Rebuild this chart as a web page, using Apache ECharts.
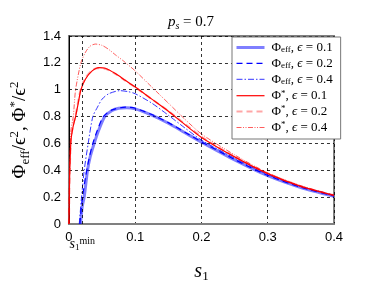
<!DOCTYPE html>
<html>
<head>
<meta charset="utf-8">
<script src="https://cdn.jsdelivr.net/npm/echarts@6/dist/echarts.min.js"></script>
<style>html,body{margin:0;padding:0;background:#fff;}#c{width:382px;height:288px;}</style>
</head>
<body>
<div id="c"></div>
<script>
// ---- data ----
const S1_MIN = 0.0155;
const X_TICKS = [0, 0.1, 0.2, 0.3, 0.4];
const Y_TICKS = [0, 0.2, 0.4, 0.6, 0.8, 1, 1.2, 1.4];

// Phi_eff, eps = 0.1
const S_EFF1 = [0.0175, 0.020, 0.023, 0.028, 0.032, 0.038, 0.045, 0.054, 0.065, 0.075, 0.087, 0.100, 0.125, 0.150, 0.175, 0.200, 0.250, 0.300, 0.350, 0.400];
const V_EFF1 = [0.000, 0.130, 0.200, 0.400, 0.500, 0.600, 0.700, 0.800, 0.845, 0.862, 0.866, 0.857, 0.810, 0.750, 0.680, 0.610, 0.478, 0.360, 0.272, 0.207];
// Phi_eff, eps = 0.2
const S_EFF2 = [0.0165, 0.020, 0.025, 0.030, 0.036, 0.043, 0.052, 0.065, 0.085, 0.100, 0.125, 0.150, 0.175, 0.200, 0.250, 0.300, 0.350, 0.400];
const V_EFF2 = [0.000, 0.180, 0.350, 0.480, 0.600, 0.700, 0.800, 0.850, 0.870, 0.862, 0.815, 0.755, 0.684, 0.612, 0.480, 0.362, 0.273, 0.208];
// Phi_eff, eps = 0.4
const S_EFF4 = [0.0155, 0.019, 0.023, 0.029, 0.036, 0.043, 0.050, 0.060, 0.077, 0.090, 0.100, 0.125, 0.150, 0.175, 0.200, 0.250, 0.300, 0.350, 0.400];
const V_EFF4 = [0.000, 0.200, 0.400, 0.600, 0.800, 0.870, 0.930, 0.970, 0.993, 0.985, 0.970, 0.900, 0.810, 0.715, 0.625, 0.490, 0.368, 0.277, 0.210];
// Phi*, eps = 0.1
const S_STAR1 = [0.000, 0.001, 0.003, 0.006, 0.010, 0.014, 0.018, 0.025, 0.035, 0.045, 0.055, 0.070, 0.085, 0.100, 0.125, 0.150, 0.175, 0.200, 0.250, 0.300, 0.350, 0.400];
const V_STAR1 = [0.000, 0.350, 0.620, 0.720, 0.800, 0.900, 1.000, 1.080, 1.140, 1.165, 1.160, 1.120, 1.070, 1.020, 0.930, 0.840, 0.740, 0.645, 0.500, 0.375, 0.280, 0.213];
// Phi*, eps = 0.2
const S_STAR2 = [0.000, 0.001, 0.003, 0.006, 0.010, 0.014, 0.018, 0.025, 0.035, 0.043, 0.055, 0.070, 0.085, 0.100, 0.125, 0.150, 0.175, 0.200, 0.250, 0.300, 0.350, 0.400];
const V_STAR2 = [0.000, 0.360, 0.630, 0.730, 0.810, 0.915, 1.010, 1.090, 1.145, 1.160, 1.155, 1.118, 1.068, 1.018, 0.930, 0.842, 0.745, 0.650, 0.503, 0.377, 0.281, 0.214];
// Phi*, eps = 0.4
const S_STAR4 = [0.000, 0.001, 0.003, 0.0065, 0.010, 0.018, 0.025, 0.032, 0.040, 0.050, 0.060, 0.070, 0.082, 0.100, 0.125, 0.150, 0.175, 0.200, 0.250, 0.300, 0.350, 0.400];
const V_STAR4 = [0.000, 0.400, 0.700, 0.800, 1.000, 1.200, 1.280, 1.325, 1.340, 1.330, 1.300, 1.260, 1.215, 1.140, 1.020, 0.900, 0.780, 0.670, 0.515, 0.380, 0.285, 0.215];

const pairs = (xs, ys) => xs.map((x, i) => [x, ys[i]]);

const SERIF = 'Liberation Serif';
const SANS = 'Liberation Sans';
const rich = {
  n: {fontFamily: SERIF, fontSize: 13, color: '#000', lineHeight: 14},
  i: {fontFamily: SERIF, fontSize: 13, fontStyle: 'italic', color: '#000', lineHeight: 14},
  sub: {fontFamily: SERIF, fontSize: 9, color: '#000', verticalAlign: 'bottom', lineHeight: 14},
  sup: {fontFamily: SERIF, fontSize: 9, color: '#000', verticalAlign: 'top', lineHeight: 14}
};

const NAMES = ['eff1', 'eff2', 'eff4', 'star1', 'star2', 'star4'];
const LEGEND_TEXT = {
  eff1: '{n|Φ}{sub|eff}{n|, }{i|ϵ}{n| = 0.1}',
  eff2: '{n|Φ}{sub|eff}{n|, }{i|ϵ}{n| = 0.2}',
  eff4: '{n|Φ}{sub|eff}{n|, }{i|ϵ}{n| = 0.4}',
  star1: '{n|Φ}{sup|*}{n|, }{i|ϵ}{n| = 0.1}',
  star2: '{n|Φ}{sup|*}{n|, }{i|ϵ}{n| = 0.2}',
  star4: '{n|Φ}{sup|*}{n|, }{i|ϵ}{n| = 0.4}'
};

function line(name, data, color, width, type, opacity, extra) {
  return Object.assign({
    name: name, type: 'line', data: data, symbol: 'none', showSymbol: false,
    smooth: 0.25,
    lineStyle: {color: color, width: width, type: type, opacity: opacity},
    itemStyle: {color: color, opacity: opacity},
    emphasis: {disabled: true}, animation: false, z: 3
  }, extra || {});
}

const chart = echarts.init(document.getElementById('c'), null, {renderer: 'canvas'});
chart.setOption({
  animation: false,
  backgroundColor: '#fff',
  title: {
    text: '{pi|p}{sub|s}{n| = 0.7}',
    left: 'center', top: 8,
    textStyle: {
      fontWeight: 'normal',
      rich: {
        pi: {fontFamily: SERIF, fontSize: 15, fontStyle: 'italic', fontWeight: 'normal', color: '#000', lineHeight: 18},
        sub: {fontFamily: SERIF, fontSize: 10, fontStyle: 'italic', fontWeight: 'normal', color: '#000', verticalAlign: 'bottom', lineHeight: 18},
        n: {fontFamily: SERIF, fontSize: 15, fontWeight: 'normal', color: '#000', lineHeight: 18}
      }
    }
  },
  grid: {left: 65, right: 48, top: 36, bottom: 60, show: true, borderColor: '#808080', borderWidth: 2, backgroundColor: 'transparent'},
  legend: {
    data: NAMES, orient: 'vertical', left: 232, top: 37,
    backgroundColor: '#fff', borderColor: '#777', borderWidth: 1, borderRadius: 0,
    padding: [4, 8, 5, 3], itemGap: 2.4, itemWidth: 28, itemHeight: 10,
    formatter: n => LEGEND_TEXT[n],
    itemStyle: {opacity: 0},
    lineStyle: {width: 'inherit'},
    textStyle: {rich: rich, padding: [0, 0, 0, 2]},
    selectedMode: false
  },
  xAxis: {
    type: 'value', min: X_TICKS[0], max: X_TICKS[X_TICKS.length - 1], interval: 0.1,
    name: '{s|s}{sub|1}', nameLocation: 'middle', nameGap: 37,
    nameTextStyle: {rich: {
      s: {fontFamily: SERIF, fontSize: 20, fontStyle: 'italic', color: '#000', lineHeight: 22},
      sub: {fontFamily: SERIF, fontSize: 13, color: '#000', verticalAlign: 'bottom', lineHeight: 22}
    }},
    axisLine: {show: true, onZero: false, lineStyle: {color: '#808080', width: 2}},
    axisTick: {show: false},
    axisLabel: {color: '#000', fontFamily: SANS, fontSize: 13, margin: 7,
      formatter: v => (X_TICKS.indexOf(Math.round(v * 10) / 10) >= 0 ? String(Math.round(v * 10) / 10) : '')},
    splitLine: {show: true, lineStyle: {color: '#000', width: 0.8, type: [3, 3]}}
  },
  yAxis: {
    type: 'value', min: Y_TICKS[0], max: Y_TICKS[Y_TICKS.length - 1], interval: 0.2,
    name: '{n|Φ}{sub|eff}{n|/ϵ}{sup|2}{n|, Φ}{sup|*}{n|/ϵ}{sup|2}', nameLocation: 'middle', nameGap: 36, nameRotate: 90,
    nameTextStyle: {rich: {
      n: {fontFamily: SERIF, fontSize: 19, color: '#000', lineHeight: 24},
      sub: {fontFamily: SERIF, fontSize: 13, color: '#000', verticalAlign: 'bottom', lineHeight: 24},
      sup: {fontFamily: SERIF, fontSize: 13, color: '#000', verticalAlign: 'top', lineHeight: 24}
    }},
    axisLine: {show: true, lineStyle: {color: '#000', width: 1}},
    axisTick: {show: false},
    axisLabel: {color: '#000', fontFamily: SANS, fontSize: 13, margin: 8,
      formatter: v => String(Math.round(v * 10) / 10)},
    splitLine: {show: true, lineStyle: {color: '#000', width: 0.8, type: [3, 3]}}
  },
  series: [
    line('eff1', pairs(S_EFF1, V_EFF1), '#0000ff', 3, 'solid', 0.5, {
      markLine: {
        silent: true, symbol: 'none', animation: false,
        lineStyle: {color: '#000', width: 0.8, type: [3, 3], opacity: 1},
        label: {show: true, position: 'start', distance: 12,
          formatter: '{s|s}{sub|1}{sup|min}',
          rich: {
            s: {fontFamily: SERIF, fontSize: 14, fontStyle: 'italic', color: '#000', lineHeight: 16},
            sub: {fontFamily: SERIF, fontSize: 9, color: '#000', verticalAlign: 'bottom', lineHeight: 16},
            sup: {fontFamily: SERIF, fontSize: 10, color: '#000', verticalAlign: 'top', lineHeight: 16}
          }},
        data: [{xAxis: S1_MIN}]
      }
    }),
    line('eff2', pairs(S_EFF2, V_EFF2), '#0000ff', 1.2, [6, 4], 1),
    line('eff4', pairs(S_EFF4, V_EFF4), '#0000ff', 0.8, [6, 2, 1.5, 2], 1),
    line('star1', pairs(S_STAR1, V_STAR1), '#ff0000', 1.2, 'solid', 1),
    line('star2', pairs(S_STAR2, V_STAR2), '#ff0000', 2, [6, 4], 0.35),
    line('star4', pairs(S_STAR4, V_STAR4), '#ff0000', 0.8, [5, 1.5, 1, 1.5, 1, 1.5], 0.8)
  ]
});
</script>
</body>
</html>
